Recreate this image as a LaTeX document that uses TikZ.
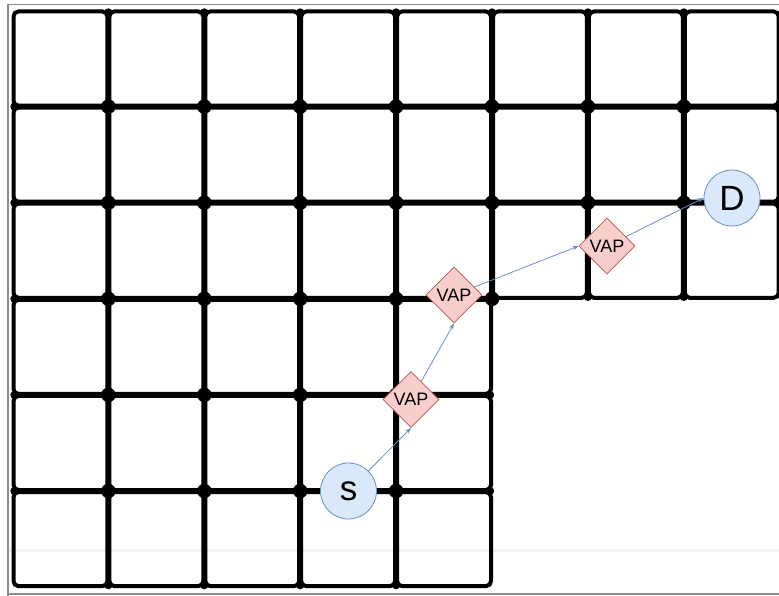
\documentclass[tikz,border=0pt]{standalone}
\usepackage{fontspec}
\setmainfont{Liberation Sans}
\usetikzlibrary{shapes.geometric,arrows.meta}
\definecolor{nodeblue}{HTML}{DAE8FC}
\definecolor{lineblue}{HTML}{6C8EBF}
\definecolor{nodered}{HTML}{F8CECC}
\definecolor{linered}{HTML}{B85450}
\definecolor{framegray}{HTML}{8C8C8C}
\definecolor{bandgray}{HTML}{F3F3F3}
\tikzset{
  cellbox/.style={draw=black, line width=4pt, rounded corners=5pt},
  bigdot/.style={fill=black, draw=none},
  endnode/.style={circle, draw=lineblue, fill=nodeblue, line width=0.8pt, minimum size=56pt, inner sep=0pt, font=\fontsize{35}{35}\selectfont},
  vapnode/.style={diamond, aspect=1, draw=linered, fill=nodered, line width=0.8pt, minimum width=56pt, minimum height=56pt, inner sep=0pt, font=\fontsize{18}{18}\selectfont},
  conn/.style={draw=lineblue, line width=0.8pt, -{Stealth[length=6pt,width=4.5pt]}},
  frameline/.style={draw=framegray, line width=1.5pt}
}
\begin{document}
\begin{tikzpicture}[x=1pt,y=-1pt]
\useasboundingbox (0,0) rectangle (779,596);
% screenshot frame
\draw[frameline] (7.8,596) -- (7.8,4.7) -- (779,4.7);
\draw[frameline] (7.8,594) -- (779,594);
\draw[draw=bandgray, line width=3pt] (9,550) -- (779,550);
% cells
\foreach \i in {0,...,7} \foreach \j in {0,1,2}
  \draw[cellbox] ({12.5+95.9*\i+1},{10.5+96.1*\j+1}) rectangle ({12.5+95.9*(\i+1)-1},{10.5+96.1*(\j+1)-1});
\foreach \i in {0,...,4} \foreach \j in {3,4,5}
  \draw[cellbox] ({12.5+95.9*\i+1},{10.5+96.1*\j+1}) rectangle ({12.5+95.9*(\i+1)-1},{10.5+96.1*(\j+1)-1});
% interior junction dots
\foreach \i in {1,...,7} \foreach \j in {1,2}
  \fill[bigdot] ({12.5+95.9*\i},{10.5+96.1*\j}) circle[radius=7.3pt];
\foreach \i in {1,...,5}
  \fill[bigdot] ({12.5+95.9*\i},{10.5+96.1*3}) circle[radius=7.3pt];
\foreach \i in {1,...,4} \foreach \j in {4,5}
  \fill[bigdot] ({12.5+95.9*\i},{10.5+96.1*\j}) circle[radius=7.3pt];
% boundary junction dots
\foreach \i in {1,...,7}
  \fill[bigdot] ({12.5+95.9*\i},{10.5+2}) circle[radius=4.2pt];
\foreach \j in {1,...,5}
  \fill[bigdot] ({12.5+2},{10.5+96.1*\j}) circle[radius=4.2pt];
\foreach \i in {1,...,4}
  \fill[bigdot] ({12.5+95.9*\i},{10.5+96.1*6-2}) circle[radius=4.2pt];
\foreach \j in {4,5}
  \fill[bigdot] ({12.5+95.9*5-2},{10.5+96.1*\j}) circle[radius=4.2pt];
\foreach \i in {6,7}
  \fill[bigdot] ({12.5+95.9*\i},{10.5+96.1*3-2}) circle[radius=4.2pt];
\foreach \j in {1,2}
  \fill[bigdot] ({12.5+95.9*8-2},{10.5+96.1*\j}) circle[radius=4.2pt];
% nodes
\node[endnode] (s) at (348.5,491) {s};
\node[endnode] (d) at (732,198) {D};
\node[vapnode] (v1) at (411,399.5) {VAP};
\node[vapnode] (v2) at (454,295) {VAP};
\node[vapnode] (v3) at (607,246) {VAP};
% connectors
\draw[conn] (s) -- (v1.south);
\draw[conn] (v1) -- (v2.south);
\draw[conn] (v2) -- (v3.west);
\draw[conn] (v3) -- (d.west);
\end{tikzpicture}
\end{document}
